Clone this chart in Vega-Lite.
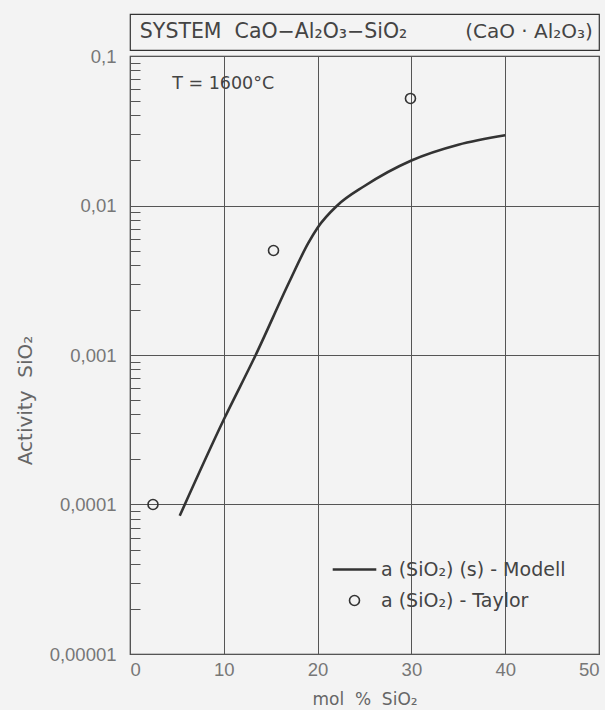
{
  "$schema": "https://vega.github.io/schema/vega-lite/v6.json",
  "background": "#f3f3f3",
  "padding": {"left": 14, "top": 13, "right": 5, "bottom": 5},
  "spacing": 6,
  "bounds": "flush",
  "config": {
    "view": {"stroke": "#333333", "strokeWidth": 1.2},
    "font": "DejaVu Sans"
  },
  "datasets": {
    "series": [
      {"x": 5.3, "a": 0.000084, "series": "a (SiO₂) (s) - Modell"},
      {"x": 10, "a": 0.00037, "series": "a (SiO₂) (s) - Modell"},
      {"x": 13.4, "a": 0.001, "series": "a (SiO₂) (s) - Modell"},
      {"x": 17, "a": 0.0031, "series": "a (SiO₂) (s) - Modell"},
      {"x": 19, "a": 0.0056, "series": "a (SiO₂) (s) - Modell"},
      {"x": 20, "a": 0.0071, "series": "a (SiO₂) (s) - Modell"},
      {"x": 22.1, "a": 0.01, "series": "a (SiO₂) (s) - Modell"},
      {"x": 25, "a": 0.0135, "series": "a (SiO₂) (s) - Modell"},
      {"x": 30, "a": 0.02, "series": "a (SiO₂) (s) - Modell"},
      {"x": 35, "a": 0.0255, "series": "a (SiO₂) (s) - Modell"},
      {"x": 40, "a": 0.0295, "series": "a (SiO₂) (s) - Modell"},
      {"x": 2.45, "a": 0.0001, "series": "a (SiO₂) - Taylor"},
      {"x": 15.3, "a": 0.005, "series": "a (SiO₂) - Taylor"},
      {"x": 29.9, "a": 0.052, "series": "a (SiO₂) - Taylor"}
    ]
  },
  "vconcat": [
    {
      "width": 469,
      "height": 36,
      "layer": [
        {
          "data": {"values": [{"label": "SYSTEM\u00a0\u00a0CaO−Al₂O₃−SiO₂"}]},
          "mark": {"type": "text", "align": "left", "baseline": "middle", "fontSize": 20.5, "color": "#444444", "font": "DejaVu Sans"},
          "encoding": {
            "x": {"datum": 0.021, "type": "quantitative", "scale": {"domain": [0, 1], "nice": false, "zero": false}, "axis": null},
            "text": {"field": "label", "type": "nominal"}
          }
        },
        {
          "data": {"values": [{"label": "(CaO · Al₂O₃)"}]},
          "mark": {"type": "text", "align": "right", "baseline": "middle", "fontSize": 20, "color": "#444444", "font": "DejaVu Sans"},
          "encoding": {
            "x": {"datum": 0.987, "type": "quantitative"},
            "text": {"field": "label", "type": "nominal"}
          }
        }
      ]
    },
    {
      "width": 469,
      "height": 598,
      "data": {"name": "series"},
      "layer": [
        {
          "transform": [{"filter": "datum.series == 'a (SiO₂) (s) - Modell'"}],
          "mark": {"type": "line", "interpolate": "monotone", "color": "#333333", "strokeWidth": 2.6},
          "encoding": {
            "x": {
              "field": "x", "type": "quantitative",
              "scale": {"domain": [0, 50], "nice": false, "zero": false},
              "axis": {
                "values": [0, 10, 20, 30, 40, 50],
                "grid": true, "gridColor": "#555555", "gridWidth": 1,
                "ticks": false, "domain": false,
                "labelPadding": 6, "labelFontSize": 18.5, "labelColor": "#777777",
                "labelFont": "Liberation Sans",
                "title": "mol\u00a0\u00a0%\u00a0\u00a0SiO₂", "titleFontSize": 17, "titleColor": "#666666",
                "titleFontWeight": "normal", "titleFont": "DejaVu Sans",
                "titleY": 45, "titleBaseline": "middle"
              }
            },
            "y": {
              "field": "a", "type": "quantitative",
              "scale": {"type": "log", "domain": [0.00001, 0.1], "nice": false},
              "axis": {
                "values": [0.00001, 0.00002, 0.00003, 0.00004, 0.00005, 0.00006, 0.00007, 0.00008, 0.00009,
                           0.0001, 0.0002, 0.0003, 0.0004, 0.0005, 0.0006, 0.0007, 0.0008, 0.0009,
                           0.001, 0.002, 0.003, 0.004, 0.005, 0.006, 0.007, 0.008, 0.009,
                           0.01, 0.02, 0.03, 0.04, 0.05, 0.06, 0.07, 0.08, 0.09, 0.1],
                "labelExpr": "(datum.value==0.1||datum.value==0.01||datum.value==0.001||datum.value==0.0001||datum.value==0.00001) ? replace(format(datum.value, '~f'), '.', ',') : ''",
                "grid": true, "gridColor": "#555555", "gridWidth": 1,
                "gridOpacity": {"condition": {"test": "datum.value==0.1||datum.value==0.01||datum.value==0.001||datum.value==0.0001||datum.value==0.00001", "value": 1}, "value": 0},
                "ticks": true, "tickSize": -10, "tickColor": "#555555", "tickWidth": 1,
                "domain": false,
                "labelPadding": 24, "labelFontSize": 18.5, "labelColor": "#777777",
                "labelFont": "Liberation Sans",
                "title": "Activity\u00a0\u00a0SiO₂", "titleFontSize": 20, "titleColor": "#666666",
                "titleFontWeight": "normal", "titleFont": "DejaVu Sans",
                "titleX": -105, "titleY": 344, "titleAlign": "center", "titleBaseline": "middle", "titleAngle": -90
              }
            }
          }
        },
        {
          "transform": [{"filter": "datum.series == 'a (SiO₂) - Taylor'"}],
          "mark": {"type": "point", "filled": false, "color": "#333333", "opacity": 1},
          "encoding": {
            "x": {"field": "x", "type": "quantitative"},
            "y": {"field": "a", "type": "quantitative"},
            "shape": {
              "field": "series", "type": "nominal",
              "scale": {"domain": ["a (SiO₂) (s) - Modell", "a (SiO₂) - Taylor"], "range": ["stroke", "circle"]},
              "legend": {
                "orient": "none", "legendX": 201, "legendY": 532, "title": null,
                "labelFontSize": 19, "labelColor": "#444444", "labelFont": "DejaVu Sans",
                "labelLimit": 400,
                "labelOffset": 3, "rowPadding": 11, "symbolStrokeColor": "#333333"
              }
            },
            "size": {
              "field": "series", "type": "nominal",
              "scale": {"type": "ordinal", "domain": ["a (SiO₂) (s) - Modell", "a (SiO₂) - Taylor"], "range": [1900, 100]}
            },
            "strokeWidth": {
              "field": "series", "type": "nominal",
              "scale": {"type": "ordinal", "domain": ["a (SiO₂) (s) - Modell", "a (SiO₂) - Taylor"], "range": [2.6, 1.6]}
            }
          }
        },
        {
          "data": {"values": [{"note": "T = 1600°C"}]},
          "mark": {"type": "text", "align": "left", "baseline": "middle", "fontSize": 17.5, "color": "#444444", "font": "DejaVu Sans"},
          "encoding": {
            "x": {"datum": 4.5, "type": "quantitative"},
            "y": {"datum": 0.065, "type": "quantitative"},
            "text": {"field": "note", "type": "nominal"}
          }
        }
      ]
    }
  ]
}
